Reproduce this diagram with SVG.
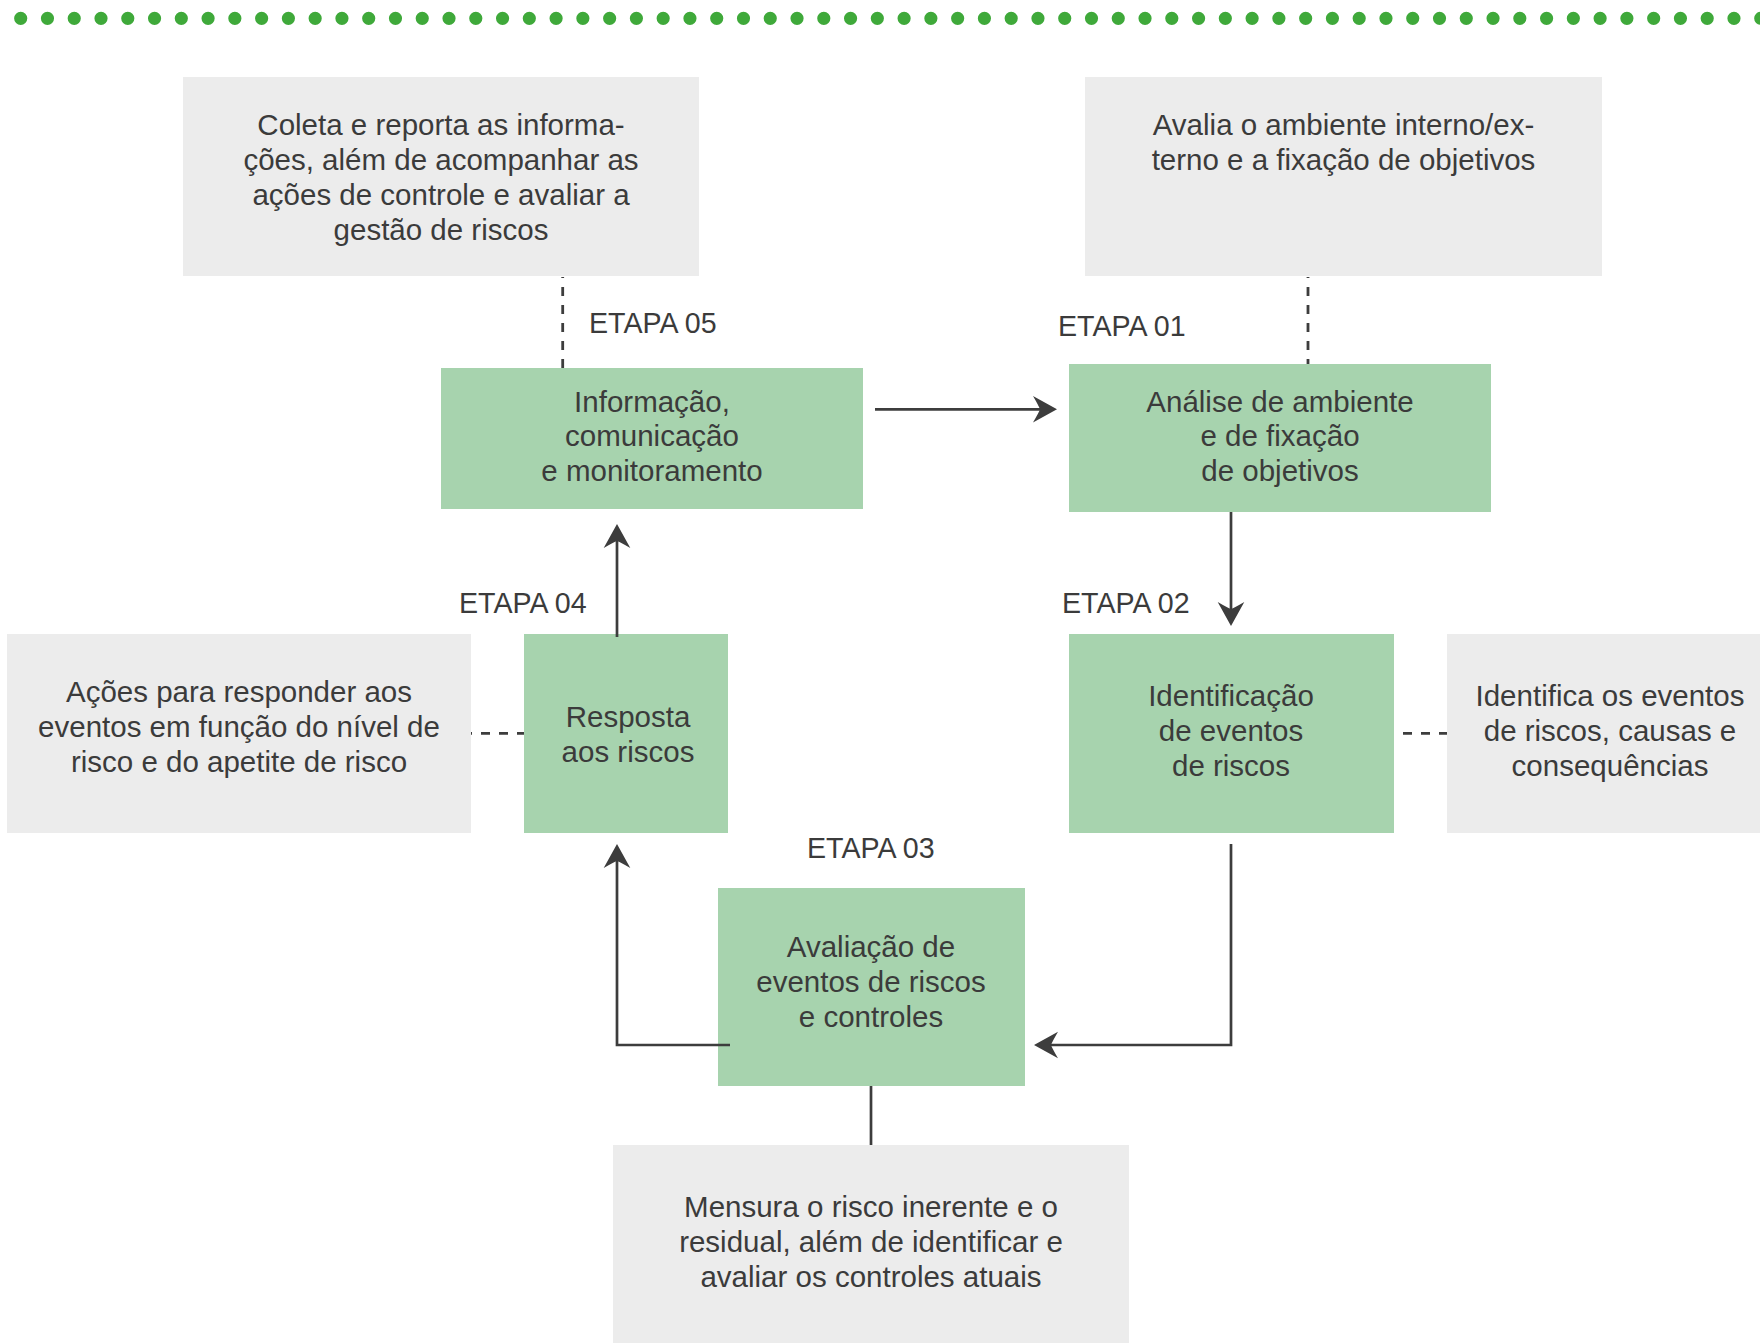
<svg xmlns="http://www.w3.org/2000/svg" width="1760" height="1343" viewBox="0 0 1760 1343">
  <defs>
    <style>
      .desc { fill: #ececec; }
      .step { fill: #a7d3ae; }
      .t { font-family: "Liberation Sans", Arial, sans-serif; font-size: 29.5px; fill: #3b3b3b; text-anchor: middle; }
      .lbl { font-family: "Liberation Sans", Arial, sans-serif; font-size: 28.6px; fill: #3b3b3b; }
      .flow { fill: none; stroke: #3d3d3d; stroke-width: 2.7; marker-end: url(#arrow); }
      .solid { fill: none; stroke: #3d3d3d; stroke-width: 2.7; }
      .dash { fill: none; stroke: #3d3d3d; stroke-width: 2.8; stroke-dasharray: 9 9; stroke-dashoffset: 8; }
      .dash0 { stroke-dashoffset: 0; }
    </style>
    <marker id="arrow" viewBox="-8 -14 26 28" refX="0" refY="0" markerWidth="26" markerHeight="28" markerUnits="userSpaceOnUse" orient="auto">
      <path d="M17,0 L-7,-13.3 Q-1,-3 0,0 Q-1,3 -7,13.3 Z" fill="#3d3d3d"/>
    </marker>
  </defs>
  <rect width="1760" height="1343" fill="#ffffff"/>

  <line id="dots" x1="20.7" y1="18.3" x2="1762" y2="18.3" stroke="#3fa93a" stroke-width="13.2" stroke-linecap="round" stroke-dasharray="0 26.77"/>

  <g id="desc05">
    <rect class="desc" x="183" y="77" width="516" height="199"/>
    <text class="t" x="441" y="135">Coleta e reporta as informa-</text>
    <text class="t" x="441" y="170">ções, além de acompanhar as</text>
    <text class="t" x="441" y="205">ações de controle e avaliar a</text>
    <text class="t" x="441" y="240">gestão de riscos</text>
  </g>
  <g id="desc01">
    <rect class="desc" x="1085" y="77" width="517" height="199"/>
    <text class="t" x="1343.5" y="135">Avalia o ambiente interno/ex-</text>
    <text class="t" x="1343.5" y="170">terno e a fixação de objetivos</text>
  </g>
  <g id="step05">
    <rect class="step" x="441" y="368" width="422" height="141"/>
    <text class="t" x="652" y="411.7">Informação,</text>
    <text class="t" x="652" y="446.4">comunicação</text>
    <text class="t" x="652" y="481">e monitoramento</text>
  </g>
  <g id="step01">
    <rect class="step" x="1069" y="364" width="422" height="148"/>
    <text class="t" x="1280" y="411.7">Análise de ambiente</text>
    <text class="t" x="1280" y="446.4">e de fixação</text>
    <text class="t" x="1280" y="481">de objetivos</text>
  </g>
  <g id="desc04">
    <rect class="desc" x="7" y="634" width="464" height="199"/>
    <text class="t" x="239" y="702">Ações para responder aos</text>
    <text class="t" x="239" y="737">eventos em função do nível de</text>
    <text class="t" x="239" y="772">risco e do apetite de risco</text>
  </g>
  <g id="step04">
    <rect class="step" x="524" y="634" width="204" height="199"/>
    <text class="t" x="628" y="727">Resposta</text>
    <text class="t" x="628" y="762">aos riscos</text>
  </g>
  <g id="step02">
    <rect class="step" x="1069" y="634" width="325" height="199"/>
    <text class="t" x="1231" y="706">Identificação</text>
    <text class="t" x="1231" y="741">de eventos</text>
    <text class="t" x="1231" y="776">de riscos</text>
  </g>
  <g id="desc02">
    <rect class="desc" x="1447" y="634" width="313" height="199"/>
    <text class="t" x="1610" y="706">Identifica os eventos</text>
    <text class="t" x="1610" y="741">de riscos, causas e</text>
    <text class="t" x="1610" y="776">consequências</text>
  </g>
  <g id="step03">
    <rect class="step" x="718" y="888" width="307" height="198"/>
    <text class="t" x="871" y="957">Avaliação de</text>
    <text class="t" x="871" y="992">eventos de riscos</text>
    <text class="t" x="871" y="1027">e controles</text>
  </g>
  <g id="desc03">
    <rect class="desc" x="613" y="1145" width="516" height="198"/>
    <text class="t" x="871" y="1217">Mensura o risco inerente e o</text>
    <text class="t" x="871" y="1252">residual, além de identificar e</text>
    <text class="t" x="871" y="1287">avaliar os controles atuais</text>
  </g>

  <g id="labels">
    <text class="lbl" x="589" y="333">ETAPA 05</text>
    <text class="lbl" x="1058" y="336">ETAPA 01</text>
    <text class="lbl" x="459" y="613">ETAPA 04</text>
    <text class="lbl" x="1062" y="613">ETAPA 02</text>
    <text class="lbl" x="807" y="858">ETAPA 03</text>
  </g>

  <g id="connectors">
    <path class="dash" d="M562.7,277 V368"/>
    <path class="dash" d="M1308,277 V364"/>
    <path class="dash" d="M471,733.3 H524"/>
    <path class="dash dash0" d="M1403,733.3 H1447"/>
    <path class="flow" d="M875,409.3 H1040"/>
    <path class="flow" d="M1231,512 V609"/>
    <path class="flow" d="M1231,844 V1045 H1051"/>
    <path class="flow" d="M730,1045 H617 V861"/>
    <path class="flow" d="M617,637 V541"/>
    <path class="solid" d="M871,1086 V1145"/>
  </g>
</svg>
